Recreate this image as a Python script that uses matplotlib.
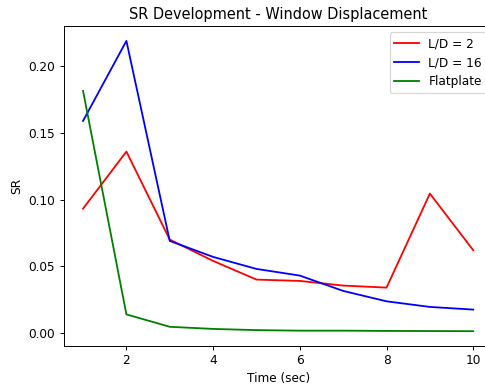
import matplotlib.pyplot as plt

# SR per time step for each configuration
tiempo = [1, 2, 3, 4, 5, 6, 7, 8, 9, 10]
sr_ld2 = [0.0932, 0.136, 0.0700, 0.0540, 0.0400, 0.0390, 0.0355, 0.0340, 0.1045, 0.0620]
sr_ld16 = [0.159, 0.219, 0.0690, 0.0570, 0.0480, 0.0430, 0.0315, 0.0237, 0.0195, 0.0175]
sr_flat = [0.1815, 0.0139, 0.0046, 0.0030, 0.0021, 0.0017, 0.0017, 0.0015, 0.0014, 0.0013]

dpi = 87
fig, ax = plt.subplots(figsize=(485 / dpi, 388 / dpi), dpi=dpi)

ax.plot(tiempo, sr_ld2, color='red', label='L/D = 2')
ax.plot(tiempo, sr_ld16, color='blue', label='L/D = 16')
ax.plot(tiempo, sr_flat, color='green', label='Flatplate')

ax.set_title('SR Development - Window Displacement')
ax.set_xlabel('Time (sec)')
ax.set_ylabel('SR')
ax.legend(loc='upper right')

# the plot area runs slightly past the right border of the image
plt.subplots_adjust(left=0.131, right=1.016, top=0.932, bottom=0.109)
plt.savefig('out.png', dpi=dpi, facecolor='white')
plt.close()
